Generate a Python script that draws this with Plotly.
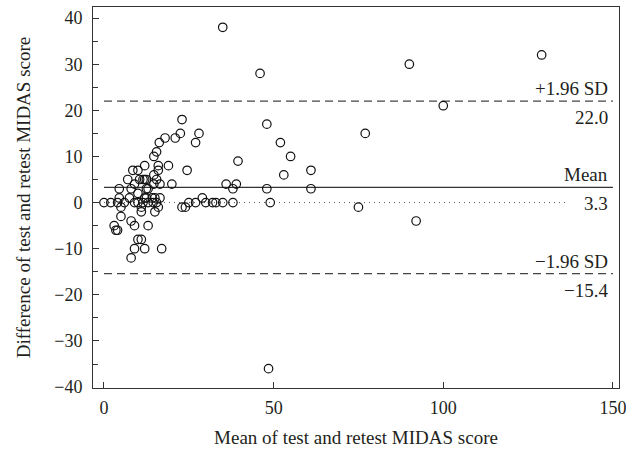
import plotly.graph_objects as go

# Bland-Altman data: mean of test/retest (x) and difference (y)
mean_scores = [
    35, 46, 90, 129, 100, 77, 75, 92, 48.5, 61, 61, 55, 53, 52, 48, 48, 49,
    39.5, 36, 39, 38, 38, 35, 33, 32, 30, 29, 27, 25, 24, 23, 23, 22.5, 28, 27, 24.5,
    0, 2, 4, 6, 4.5, 4.5, 5, 5, 3, 3.5, 4,
    7, 8.5, 9, 8, 7.5, 9, 10, 10, 8, 9, 10, 11, 9, 12, 8, 17, 11, 13,
    10.5, 11.5, 12.5, 10, 12, 12.5, 11.5, 13, 12.5, 11,
    14.5, 15, 16.5, 15.5, 16, 15, 14.7, 15.5, 16.5, 20, 14.7, 16, 16, 19,
    14.7, 15.5, 16.3, 18, 21, 12, 14.2, 13, 12,
]
differences = [
    38, 28, 30, 32, 21, 15, -1, -4, -36, 7, 3, 10, 6, 13, 17, 3, 0,
    9, 4, 4, 3, 0, 0, 0, 0, 0, 1, 0, 0, -1, -1, 18, 15, 15, 13, 7,
    0, 0, 0, 0, 3, 1, -1, -3, -5, -6, -6,
    5, 7, 4, 3, 1, 0, 2, 0, -4, -5, -8, -8, -10, -10, -12, -10, -2, -5,
    5, 5, 5, 7, 8, 3, 0, 0, 1, -1,
    0, 1, 1, 0, -1, -2, 4, 5, 4, 4, 6, 7, 8, 8,
    10, 11, 13, 14, 14, 1, 1, 3, 5,
]

mean_diff = 3.3
upper_loa = 22.0
lower_loa = -15.4
line_x = [0, 150]
zero_line_x = [0, 136]

y_tickvals = [-40, -30, -20, -10, 0, 10, 20, 30, 40]
y_ticktext = ["\u221240", "\u221230", "\u221220", "\u221210", "0", "10", "20", "30", "40"]
x_tickvals = [0, 50, 100, 150]
x_ticktext = ["0", "50", "100", "150"]

labels_above = ["+1.96 SD", "Mean", "\u22121.96 SD"]
labels_below = ["22.0", "3.3", "\u221215.4"]
label_levels = [upper_loa, mean_diff, lower_loa]

FONT = "Liberation Serif"
INK = "#231f20"

fig = go.Figure()

# zero reference (dotted)
fig.add_trace(go.Scatter(x=zero_line_x, y=[0, 0], mode="lines",
                         line=dict(color="#555", width=1, dash="1px,4px"),
                         hoverinfo="skip", showlegend=False))
# limits of agreement (dashed)
for lv in (upper_loa, lower_loa):
    fig.add_trace(go.Scatter(x=line_x, y=[lv, lv], mode="lines",
                             line=dict(color="#444", width=1.2, dash="8px,5px"),
                             hoverinfo="skip", showlegend=False))
# mean difference (solid)
fig.add_trace(go.Scatter(x=line_x, y=[mean_diff, mean_diff], mode="lines",
                         line=dict(color="#333", width=1.2),
                         hoverinfo="skip", showlegend=False))

# points
fig.add_trace(go.Scatter(x=mean_scores, y=differences, mode="markers",
                         marker=dict(symbol="circle-open", size=8.5,
                                     color="#111", line=dict(width=1.2, color="#111")),
                         showlegend=False))

for txt_a, txt_b, lv in zip(labels_above, labels_below, label_levels):
    fig.add_annotation(x=150, y=lv, text=txt_a, showarrow=False,
                       xanchor="right", yanchor="bottom", yshift=0, xshift=-3,
                       font=dict(family=FONT, size=19, color=INK))
    fig.add_annotation(x=150, y=lv, text=txt_b, showarrow=False,
                       xanchor="right", yanchor="top", yshift=-4, xshift=-3,
                       font=dict(family=FONT, size=19, color=INK))

axis_common = dict(showline=True, linecolor="#333", linewidth=1, mirror=True,
                   showgrid=False, zeroline=False, ticks="inside", ticklen=6,
                   tickcolor="#333", tickwidth=1, ticklabeloverflow="allow",
                   automargin=False,
                   tickfont=dict(family=FONT, size=18, color=INK))

fig.update_layout(
    width=626, height=454,
    margin=dict(l=93, r=7, t=7, b=66),
    paper_bgcolor="white", plot_bgcolor="white",
    xaxis=dict(range=[-3.24, 151.8], tickmode="array", tickvals=x_tickvals,
               ticktext=x_ticktext, ticklabelstandoff=3,
               minor=dict(ticks=""),
               title=dict(text="Mean of test and retest MIDAS score",
                          font=dict(family=FONT, size=19, color=INK), standoff=14),
               **axis_common),
    yaxis=dict(range=[-40.2, 42.4], tickmode="array", tickvals=y_tickvals,
               ticktext=y_ticktext, ticklabelstandoff=6,
               minor=dict(ticks="inside", dtick=5, ticklen=5, tickcolor="#333"),
               title=dict(text="Difference of test and retest MIDAS score",
                          font=dict(family=FONT, size=19, color=INK), standoff=18),
               **axis_common),
)

fig.write_html("out.html", config={"displayModeBar": False},
               post_script="document.body.style.margin='0';document.body.style.overflow='hidden';")
